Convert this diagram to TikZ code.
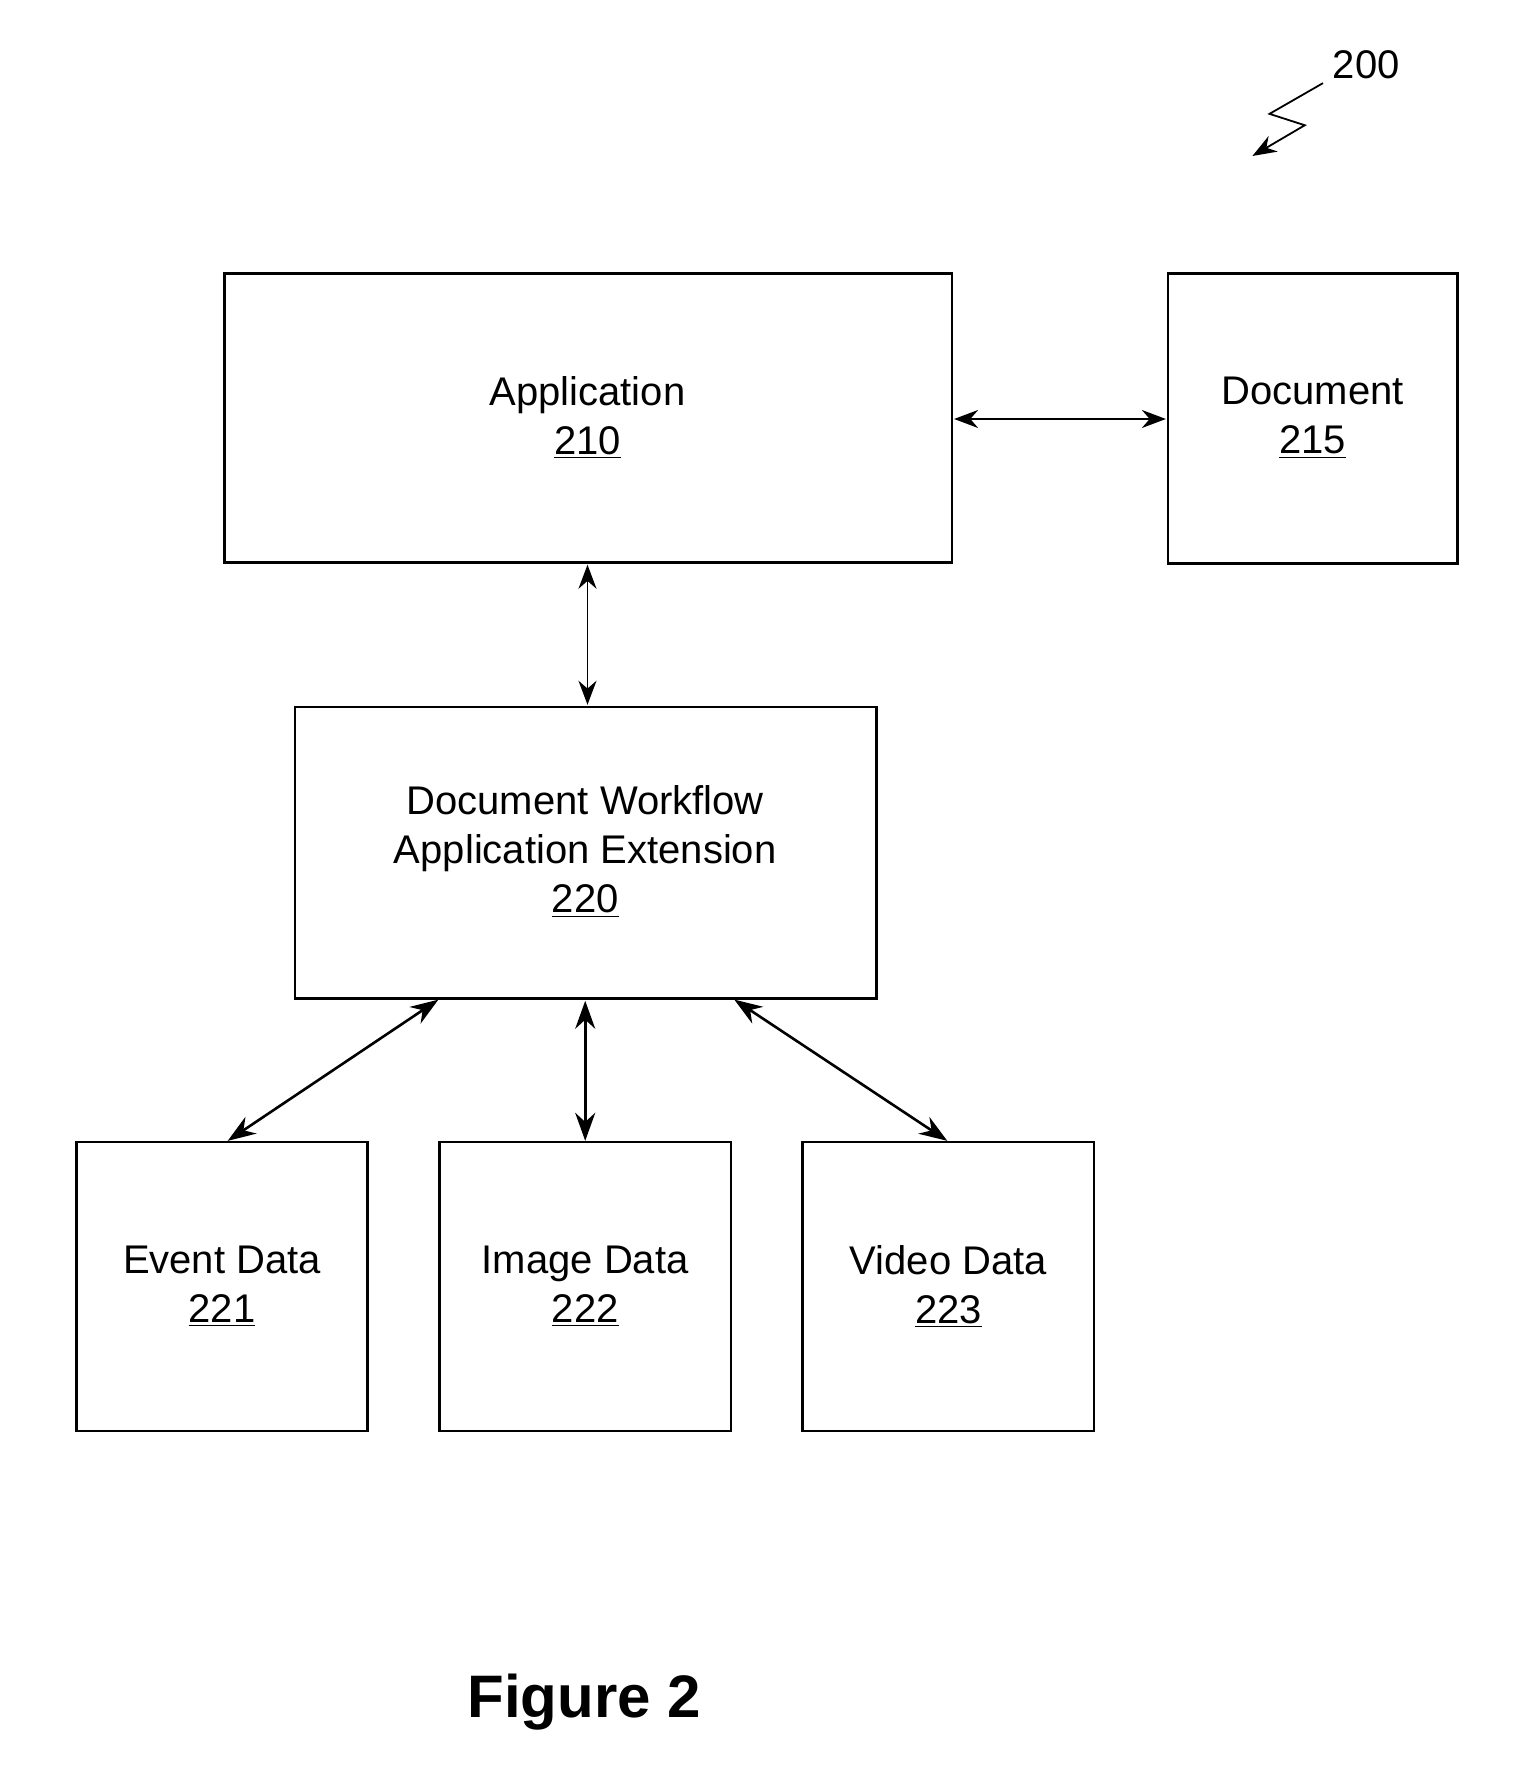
\documentclass[tikz,border=0pt]{standalone}
\usepackage{fontspec}
\setmainfont{Liberation Sans}
\usetikzlibrary{arrows.meta}
\begin{document}
\begin{tikzpicture}[x=0.02cm,y=-0.02cm,
  box/.style={draw,line width=1.3pt,inner sep=0},
  lbl/.style={align=center,font=\fontsize{20}{24.5}\selectfont},
  arr/.style={line width=1.3pt,{Stealth[length=14pt,width=10pt]}-{Stealth[length=14pt,width=10pt]}},
  tarr/.style={line width=0.9pt,{Stealth[length=12pt,width=9pt]}-{Stealth[length=12pt,width=9pt]}}]
\useasboundingbox (0,0) rectangle (1350,1559);
\draw[box] (197,240) rectangle (836,494); \node[lbl] (app) at (516,367) {Application\\\underline{210}};
\draw[box] (1026,240) rectangle (1280,495); \node[lbl] (doc) at (1153,367) {Document\\\underline{215}};
\draw[box] (259,621) rectangle (770,877); \node[lbl] (ext) at (514,748) {Document Workflow\\Application Extension\\\underline{220}};
\draw[box] (67,1003) rectangle (323,1257); \node[lbl] (ev) at (195,1130) {Event Data\\\underline{221}};
\draw[box] (386,1003) rectangle (642,1257); \node[lbl] (im) at (514,1130) {Image Data\\\underline{222}};
\draw[box] (705,1003) rectangle (961,1257); \node[lbl] (vi) at (833,1130) {Video Data\\\underline{223}};
\coordinate (a1) at (838,368); \coordinate (a2) at (1024,368);
\draw[tarr] (a1) -- (a2);
\coordinate (b1) at (516,496); \coordinate (b2) at (516,619);
\draw[tarr] (b1) -- (b2);
\coordinate (c1) at (385,878); \coordinate (c2) at (200,1002);
\draw[arr] (c1) -- (c2);
\coordinate (d1) at (514,879); \coordinate (d2) at (514,1002);
\draw[arr] (d1) -- (d2);
\coordinate (e1) at (645,878); \coordinate (e2) at (832,1002);
\draw[arr] (e1) -- (e2);
\node[lbl] (n200) at (1200,57) {200};
\coordinate (z0) at (1162,73);
\draw[line width=0.9pt,-{Stealth[length=12pt,width=9pt]}] (z0) -- (1115,100) -- (1146,110) -- (1100,137);
\node[font=\fontsize{30}{36}\selectfont\bfseries] (fig) at (513,1495) {Figure 2};
\end{tikzpicture}
\end{document}
